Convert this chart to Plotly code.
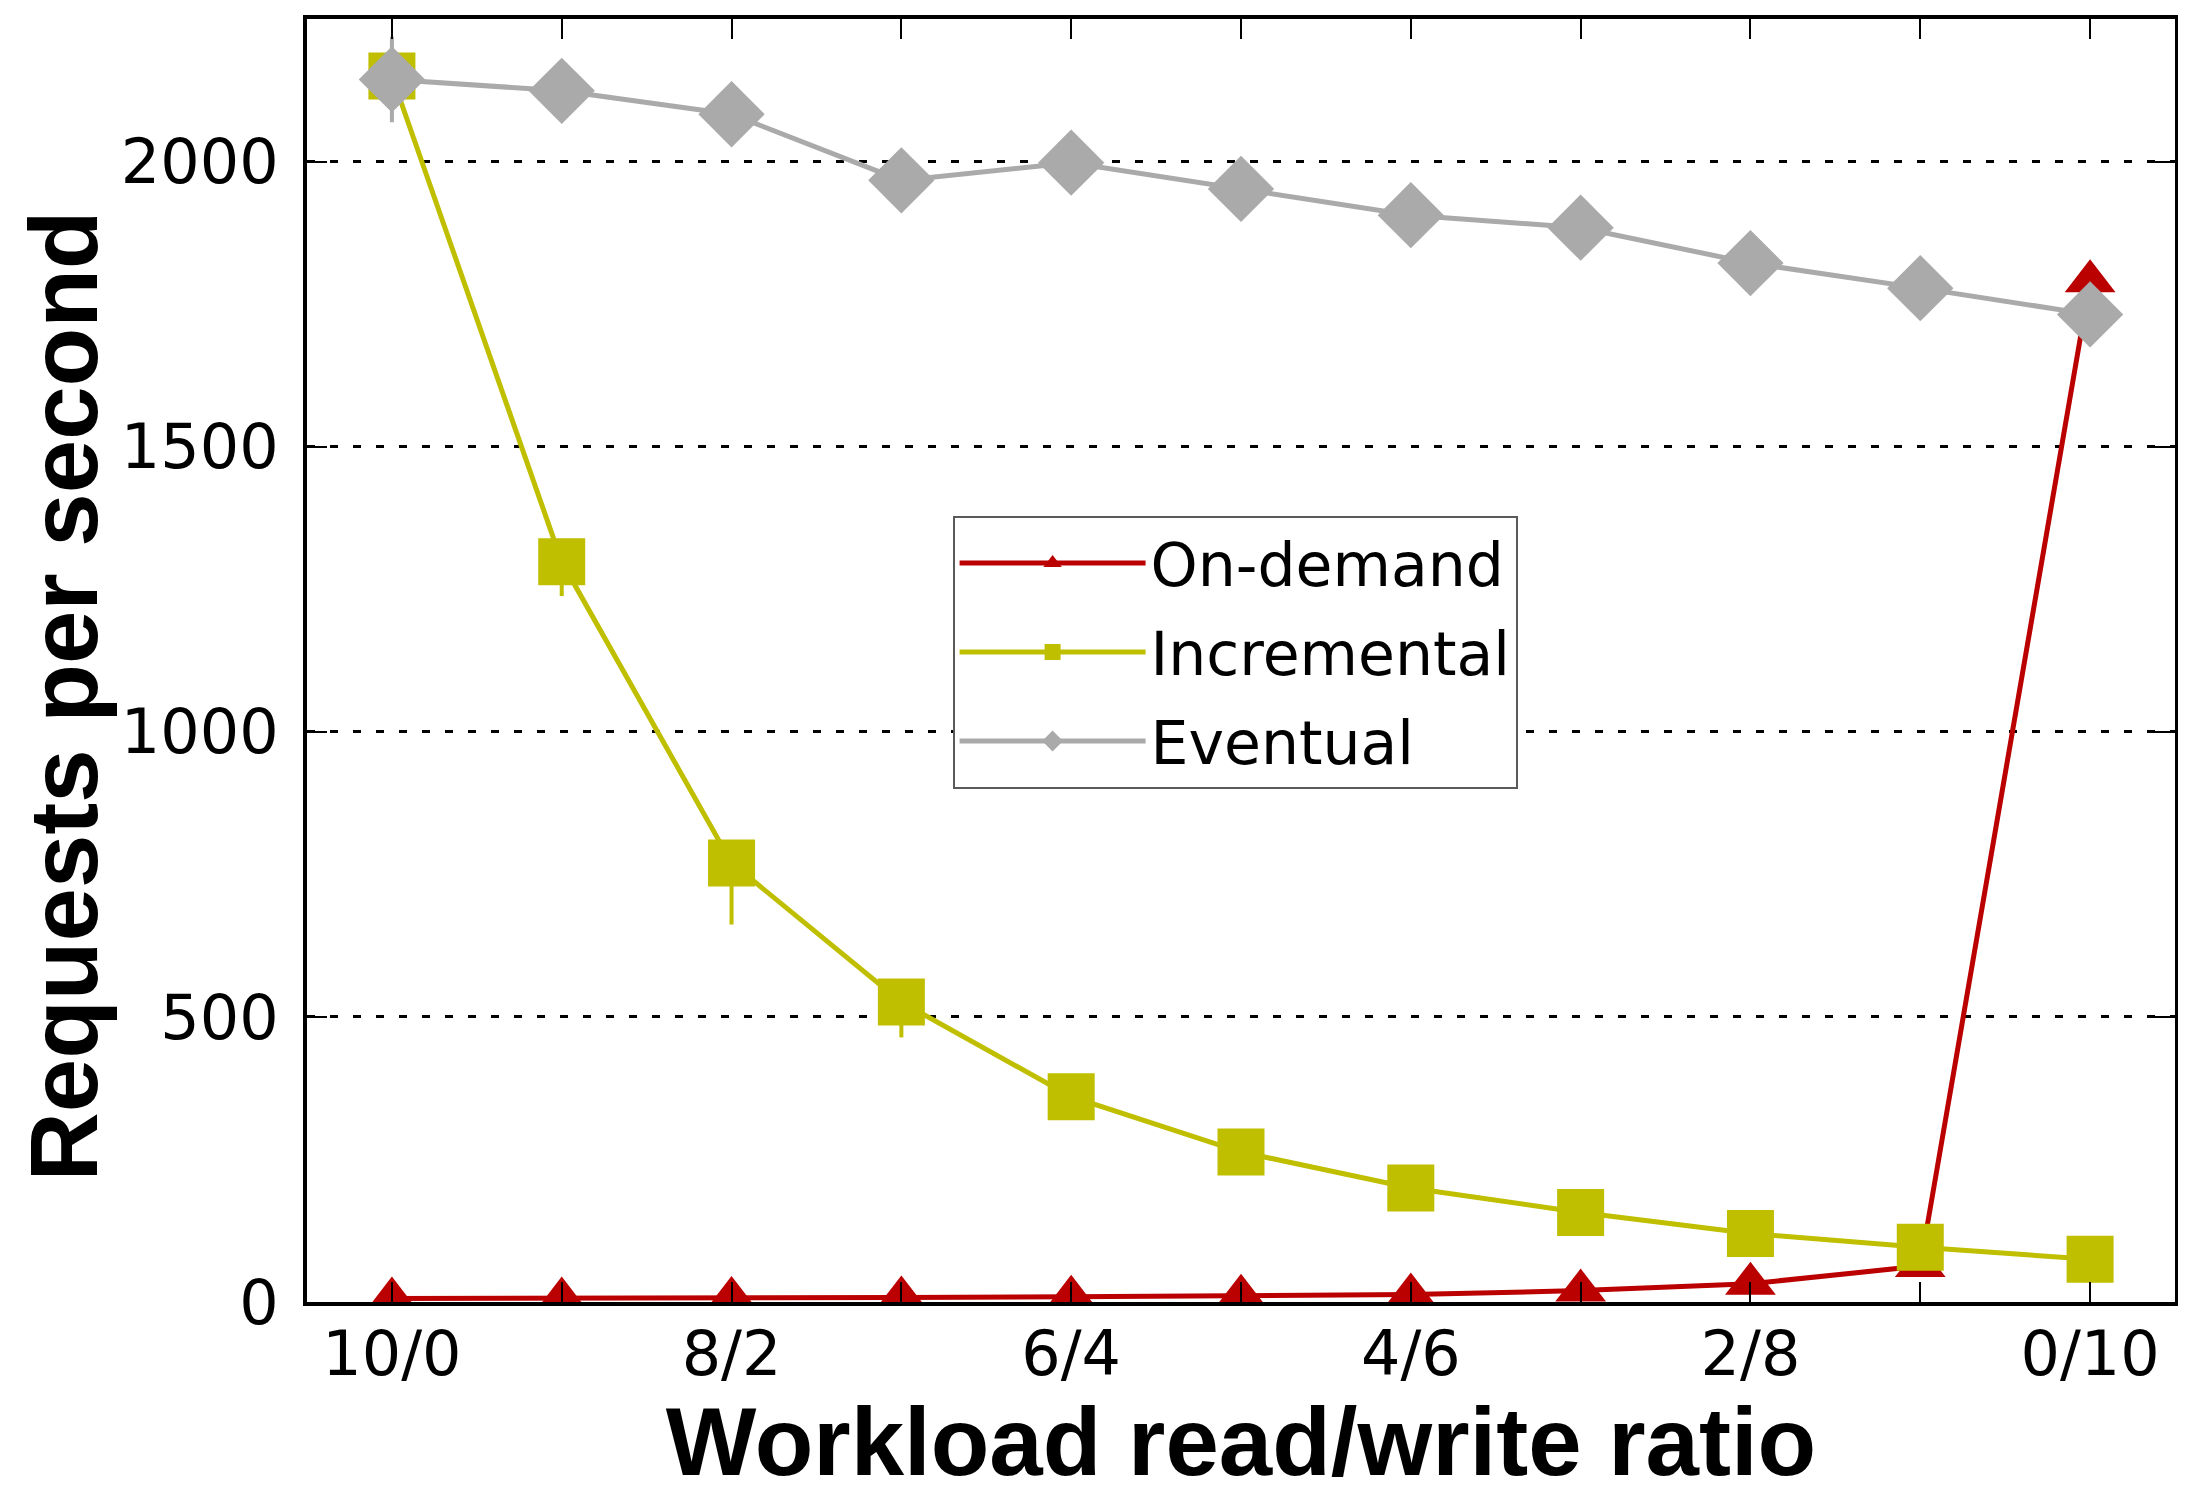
import plotly.graph_objects as go

ratios = ["10/0", "9/1", "8/2", "7/3", "6/4", "5/5", "4/6", "3/7", "2/8", "1/9", "0/10"]
tick_labels = ["10/0", "", "8/2", "", "6/4", "", "4/6", "", "2/8", "", "0/10"]
ondemand = [6, 6, 7, 8, 9, 11, 13, 20, 32, 63, 1790]
incremental = [2150, 1298, 770, 526, 360, 263, 200, 157, 120, 96, 75]
incremental_err_minus = [0, 60, 108, 62, 0, 0, 0, 0, 0, 0, 0]
eventual = [2144, 2124, 2083, 1967, 1998, 1952, 1906, 1884, 1822, 1778, 1732]
eventual_err = [75, 0, 0, 0, 0, 0, 0, 0, 0, 0, 0]

xs = list(range(len(ratios)))

RED = "rgb(187,0,0)"
YEL = "rgb(191,191,0)"
GRY = "rgb(170,170,170)"

fig = go.Figure()
fig.add_trace(go.Scatter(
    x=xs, y=ondemand, name="On-demand", mode="lines+markers", legendgroup="a",
    line=dict(color=RED, width=5),
    marker=dict(symbol="triangle-up", size=44, color=RED),
))
fig.add_trace(go.Scatter(
    x=xs, y=incremental, name="Incremental", mode="lines+markers", legendgroup="b",
    line=dict(color=YEL, width=5),
    marker=dict(symbol="square", size=47, color=YEL),
    error_y=dict(type="data", symmetric=False, array=[0]*len(xs),
                 arrayminus=incremental_err_minus, color=YEL, thickness=4, width=0),
))
fig.add_trace(go.Scatter(
    x=xs, y=eventual, name="Eventual", mode="lines+markers", legendgroup="c",
    line=dict(color=GRY, width=5),
    marker=dict(symbol="diamond", size=51, color=GRY),
    error_y=dict(type="data", array=eventual_err, color=GRY, thickness=4, width=0),
))

fig.update_layout(
    width=2178, height=1487,
    margin=dict(l=299, r=7, t=7, b=193),
    paper_bgcolor="white", plot_bgcolor="white",
    font=dict(family="DejaVu Sans", size=62, color="black"),
    showlegend=True,
    legend=dict(
        x=0.3456, y=0.613, xanchor="left", yanchor="top",
        bgcolor="white", bordercolor="rgb(90,90,90)", borderwidth=2,
        font=dict(family="DejaVu Sans", size=60), itemwidth=186,
        traceorder="grouped", tracegroupgap=8,
    ),
    annotations=[dict(
        text="<b>Requests per second</b>", textangle=-90,
        xref="paper", yref="paper", x=-0.1303, y=0.4724,
        xanchor="center", yanchor="middle", showarrow=False,
        font=dict(family="Liberation Sans", size=96, color="black"),
    )],
)
fig.update_xaxes(
    range=[-0.5, 10.5], tickmode="array", tickvals=xs, ticktext=tick_labels,
    ticks="inside", ticklen=20, tickwidth=2, tickcolor="black",
    showline=True, linecolor="black", linewidth=4, mirror="allticks",
    showgrid=False, zeroline=False, ticklabelstandoff=-5,
    tickfont=dict(family="DejaVu Sans", size=62),
    title=dict(text="<b>Workload read/write ratio</b>",
               font=dict(family="Liberation Sans", size=96), standoff=22),
)
fig.update_yaxes(
    range=[0, 2250], tickvals=[0, 500, 1000, 1500, 2000],
    ticks="inside", ticklen=20, tickwidth=2, tickcolor="black",
    showline=True, linecolor="black", linewidth=4, mirror="allticks",
    showgrid=True, gridcolor="black", gridwidth=3, griddash="8px,15px",
    zeroline=False, ticklabelstandoff=12,
    tickfont=dict(family="DejaVu Sans", size=62),
)

fig.write_html("out.html")
